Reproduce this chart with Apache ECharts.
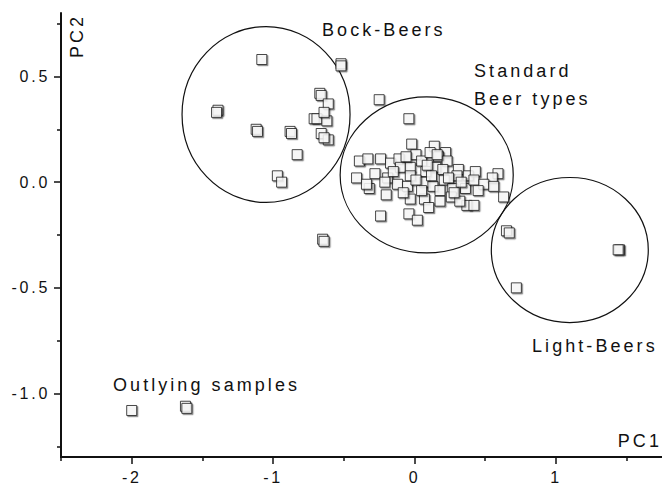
<!DOCTYPE html>
<html><head><meta charset="utf-8">
<script src="https://cdn.jsdelivr.net/npm/echarts@6/dist/echarts.min.js"></script>
<style>
html,body{margin:0;padding:0;background:#fff;}
#chart{width:662px;height:489px;}
#chart text{letter-spacing:0.17em;}
</style></head><body><div id="chart"></div>
<script>
// ---- data (PC1, PC2) ----
const bockBeers = [[-1.08,0.58],[-1.39,0.34],[-1.40,0.33],[-1.12,0.25],[-1.11,0.24],[-0.88,0.24],[-0.87,0.23],[-0.83,0.13],[-0.97,0.03],[-0.94,0.00],[-0.67,0.42],[-0.66,0.41],[-0.61,0.37],[-0.71,0.30],[-0.69,0.30],[-0.62,0.29],[-0.64,0.33],[-0.66,0.23],[-0.61,0.20],[-0.64,0.21]];
const standardBeers = [[-0.52,0.56],[-0.52,0.55],[-0.25,0.39],[-0.04,0.30],[-0.02,0.18],[0.14,0.17],[0.22,0.14],[-0.39,0.10],[-0.33,0.11],[-0.24,0.11],[-0.17,0.09],[-0.11,0.11],[0.01,0.13],[0.05,0.10],[0.11,0.14],[0.17,0.12],[0.23,0.10],[-0.10,0.07],[-0.03,0.07],[0.08,0.05],[0.15,0.07],[0.31,0.06],[-0.41,0.02],[-0.28,0.04],[-0.19,0.02],[-0.03,0.03],[0.07,0.00],[0.21,0.01],[0.30,0.03],[0.38,0.03],[0.43,0.05],[0.59,0.04],[0.55,0.02],[-0.32,-0.03],[-0.34,-0.01],[-0.21,0.00],[-0.12,-0.01],[-0.05,-0.02],[0.01,0.01],[0.13,-0.02],[0.18,-0.04],[0.27,-0.03],[0.36,-0.03],[0.42,0.01],[0.49,-0.01],[0.56,-0.02],[0.63,-0.07],[-0.03,-0.08],[0.07,-0.08],[0.18,-0.09],[0.26,-0.07],[0.37,-0.11],[0.42,-0.11],[0.32,-0.09],[-0.24,-0.16],[-0.04,-0.15],[0.02,-0.18],[-0.65,-0.27],[-0.64,-0.28],[-0.06,0.12],[0.09,0.08],[0.20,0.06],[-0.15,0.05],[0.24,0.02],[0.33,0.00],[0.45,-0.04],[0.12,0.03],[-0.08,-0.05],[0.05,-0.04],[0.28,-0.05],[0.10,-0.12],[0.16,0.13],[-0.20,-0.06]];
const lightBeers = [[0.65,-0.23],[0.67,-0.24],[1.45,-0.32],[1.44,-0.32],[0.72,-0.50]];
const outlyingSamples = [[-2.00,-1.08],[-1.62,-1.06],[-1.61,-1.07]];
// group outlines: [centre PC1, centre PC2, half-width in PC1 units, half-height in PC2 units]
const groupOutlines = [[-1.05,0.32,0.594,0.416],[0.086,0.034,0.612,0.369],[1.098,-0.321,0.555,0.343]];
const groupLabels = ['Bock-Beers','Standard\nBeer types','Light-Beers','Outlying samples'];
const xMajorTicks = [-2,-1,0,1];
const xMinorTicks = [-2.5,-1.5,-0.5,0.5,1.5];
const yMajorTicks = [-1.0,-0.5,0.0,0.5];
const yMinorTicks = [-1.25,-0.75,-0.25,0.25,0.75];
const xName = 'PC1', yName = 'PC2';

const FONT = '"Liberation Sans", Arial, sans-serif';
const INK = '#111';
const chart = echarts.init(document.getElementById('chart'), null, {renderer:'svg'});

const markerStyle = {color:'#fff', borderColor:'#1a1a1a', borderWidth:1, shadowColor:'rgba(0,0,0,0.5)', shadowOffsetX:1.2, shadowOffsetY:1.2, shadowBlur:0};
function scatter(data){
  return {type:'scatter', data, symbol:'rect', symbolSize:10, itemStyle:markerStyle, z:3, silent:true};
}
function labelText(text, x, y, extra){
  return Object.assign({type:'text', x, y, z:10, style:{text, fontSize:18, fontFamily:FONT, fill:INK, align:'left', verticalAlign:'middle', lineHeight:28}}, extra||{});
}

chart.setOption({
  animation:false,
  backgroundColor:'#fff',
  grid:{left:61, right:0, top:13, bottom:32, containLabel:false},
  xAxis:[
    {type:'value', min:-2.5, max:1.75, splitLine:{show:false},
     axisLine:{onZero:false, lineStyle:{color:INK, width:2}},
     axisTick:{customValues:xMajorTicks, length:7, lineStyle:{color:INK, width:1.5}},
     axisLabel:{customValues:xMajorTicks, margin:12, fontSize:16, fontFamily:FONT, color:INK, formatter:v=>String(v)}},
    {type:'value', min:-2.5, max:1.75, position:'bottom', splitLine:{show:false},
     axisLine:{show:false, onZero:false},
     axisTick:{customValues:xMinorTicks, length:4, lineStyle:{color:INK, width:1.5}},
     axisLabel:{show:false}}
  ],
  yAxis:[
    {type:'value', min:-1.3, max:0.8, splitLine:{show:false},
     axisLine:{onZero:false, lineStyle:{color:INK, width:2}},
     axisTick:{customValues:yMajorTicks, length:7, lineStyle:{color:INK, width:1.5}},
     axisLabel:{customValues:yMajorTicks, margin:11, fontSize:16, fontFamily:FONT, color:INK, formatter:v=>v.toFixed(1)}},
    {type:'value', min:-1.3, max:0.8, position:'left', splitLine:{show:false},
     axisLine:{show:false, onZero:false},
     axisTick:{customValues:yMinorTicks, length:4, lineStyle:{color:INK, width:1.5}},
     axisLabel:{show:false}}
  ],
  series:[
    {type:'custom', data:groupOutlines, z:2, silent:true,
     renderItem:(params, api)=>{
       const c = api.coord([api.value(0), api.value(1)]);
       const s = api.size([api.value(2), api.value(3)]);
       return {type:'ellipse', shape:{cx:c[0], cy:c[1], rx:s[0], ry:s[1]}, style:{fill:'none', stroke:INK, lineWidth:1.2}};
     }},
    scatter(bockBeers), scatter(standardBeers), scatter(lightBeers), scatter(outlyingSamples)
  ],
  graphic:[
    labelText(groupLabels[0], 322, 30),
    labelText(groupLabels[1], 474, 85),
    labelText(groupLabels[2], 532, 346),
    labelText(groupLabels[3], 113, 385),
    labelText(yName, 77, 36, {rotation:Math.PI/2, style:{text:yName, fontSize:18, fontFamily:FONT, fill:INK, align:'center', verticalAlign:'middle'}}),
    labelText(xName, 662, 441, {style:{text:xName, fontSize:18, fontFamily:FONT, fill:INK, align:'right', verticalAlign:'middle'}})
  ]
});
</script></body></html>
